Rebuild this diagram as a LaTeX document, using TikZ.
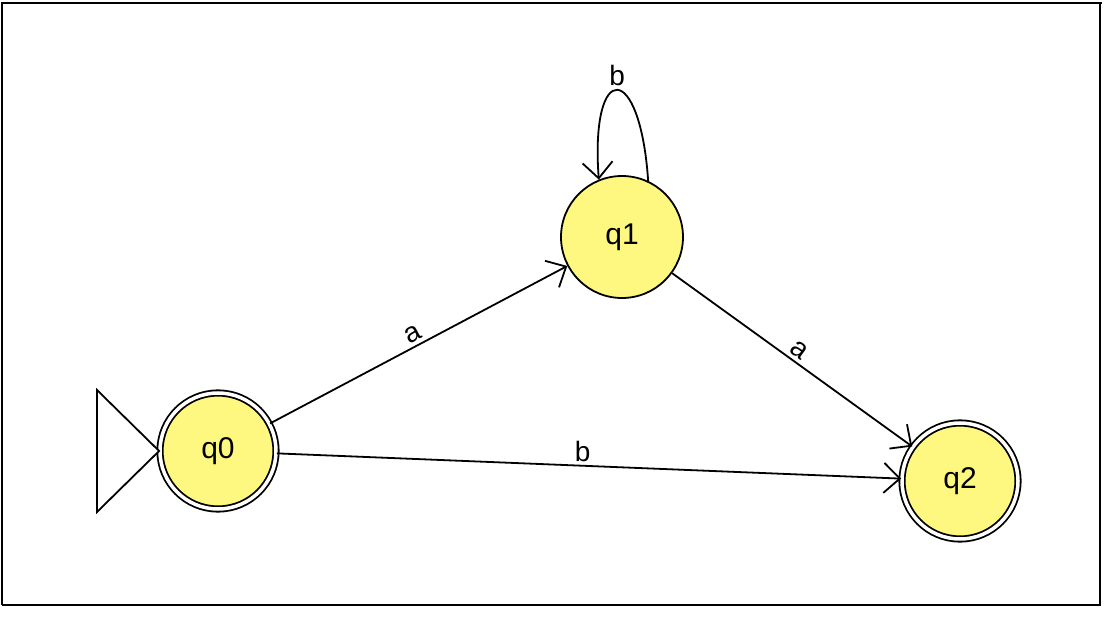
\documentclass[tikz,border=0pt]{standalone}
\usepackage{fontspec}
\setmainfont{Liberation Sans}
\usetikzlibrary{arrows.meta}
\begin{document}
\begin{tikzpicture}[x=1pt,y=-1pt,
  st/.style={circle,draw,fill=yellow!50,minimum size=122pt,inner sep=0pt,font=\fontsize{30}{34}\selectfont,line width=1.8pt},
  acc/.style={st,double,double distance=3.5pt,minimum size=116pt},
  tr/.style={line width=1.8pt,-{Straight Barb[length=16pt,width=30pt,line width=1.8pt]}},
  lb/.style={font=\fontsize{28}{32}\selectfont}]
\useasboundingbox (0,0) rectangle (1104,620);
\draw[line width=2.5pt] (2,605) -- (2,3) -- (1102,3);
\draw[line width=1.8pt] (2,605) -- (1100,605) -- (1100,3);
\node[acc] (q0) at (218,451) {q0};
\node[st] (q1) at (622,237) {q1};
\node[acc] (q2) at (960,481) {q2};
\coordinate (i1) at (97,390);
\coordinate (i2) at (97,512);
\draw[line width=1.8pt,fill=white] (i1) -- (q0.west) -- (i2) -- cycle;
\draw[tr] (q0) -- node[lb,above,sloped] {a} (q1);
\draw[tr] (q1) -- node[lb,above,sloped] {a} (q2);
\draw[tr] (q0) -- node[lb,above,pos=0.49] {b} (q2);
\draw[tr] (q1.65) .. controls (640,60) and (590,60) .. node[lb,above] {b} (q1.112);
\end{tikzpicture}
\end{document}
